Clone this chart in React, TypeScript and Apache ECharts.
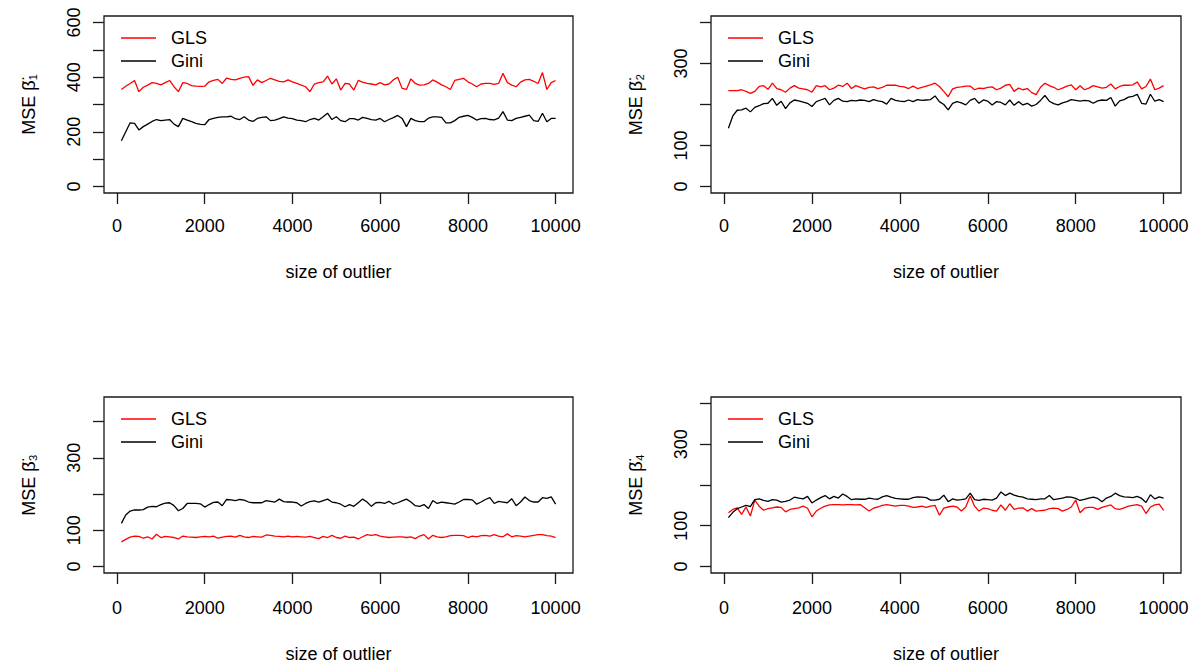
import React, { useEffect, useRef } from "react";
import * as echarts from "echarts";

const SIZES = [
  100, 200, 300, 400, 500, 600, 700, 800, 900, 1000,
  1100, 1200, 1300, 1400, 1500, 1600, 1700, 1800, 1900, 2000,
  2100, 2200, 2300, 2400, 2500, 2600, 2700, 2800, 2900, 3000,
  3100, 3200, 3300, 3400, 3500, 3600, 3700, 3800, 3900, 4000,
  4100, 4200, 4300, 4400, 4500, 4600, 4700, 4800, 4900, 5000,
  5100, 5200, 5300, 5400, 5500, 5600, 5700, 5800, 5900, 6000,
  6100, 6200, 6300, 6400, 6500, 6600, 6700, 6800, 6900, 7000,
  7100, 7200, 7300, 7400, 7500, 7600, 7700, 7800, 7900, 8000,
  8100, 8200, 8300, 8400, 8500, 8600, 8700, 8800, 8900, 9000,
  9100, 9200, 9300, 9400, 9500, 9600, 9700, 9800, 9900, 10000,
];

const X_TICKS = [0, 2000, 4000, 6000, 8000, 10000];

const GLS_B1 = [
  355, 367, 377, 388, 347, 363, 371, 380, 377, 372,
  380, 388, 365, 347, 380, 377, 369, 367, 366, 367,
  383, 388, 392, 377, 397, 392, 390, 396, 400, 402,
  370, 390, 380, 388, 396, 390, 385, 383, 390, 383,
  377, 371, 365, 347, 375, 380, 383, 404, 375, 394,
  353, 377, 375, 353, 388, 382, 377, 375, 372, 380,
  372, 375, 390, 400, 359, 355, 394, 377, 371, 372,
  377, 390, 382, 372, 365, 355, 388, 392, 396, 383,
  375, 365, 375, 377, 377, 374, 377, 414, 380, 371,
  365, 382, 390, 392, 385, 377, 417, 355, 380, 388,
];
const GINI_B1 = [
  167, 200, 233, 231, 207, 219, 228, 238, 245, 241,
  243, 245, 228, 219, 249, 243, 237, 231, 227, 226,
  245, 249, 253, 255, 255, 257, 248, 245, 255, 243,
  238, 249, 253, 255, 241, 243, 248, 255, 250, 248,
  243, 241, 237, 245, 249, 243, 255, 268, 245, 255,
  241, 237, 248, 248, 243, 253, 249, 245, 243, 249,
  237, 245, 252, 260, 249, 219, 249, 241, 237, 237,
  250, 255, 255, 253, 233, 233, 241, 253, 257, 260,
  253, 243, 248, 249, 245, 244, 250, 274, 243, 241,
  249, 253, 257, 261, 241, 238, 268, 237, 249, 249,
];

const GLS_B2 = [
  234, 234, 234, 236, 232, 227, 232, 244, 246, 237,
  252, 239, 236, 230, 240, 246, 240, 238, 236, 230,
  246, 243, 246, 236, 240, 247, 244, 252, 239, 246,
  242, 238, 242, 243, 239, 242, 247, 247, 247, 244,
  243, 239, 245, 239, 242, 245, 248, 252, 244, 232,
  219, 238, 242, 243, 245, 245, 236, 240, 239, 242,
  243, 236, 240, 247, 249, 232, 240, 236, 239, 229,
  224, 242, 252, 246, 242, 236, 240, 245, 248, 236,
  246, 236, 240, 246, 243, 240, 242, 250, 238, 244,
  247, 247, 248, 255, 238, 244, 262, 236, 240, 246,
];
const GINI_B2 = [
  142, 172, 186, 187, 191, 182, 193, 197, 202, 203,
  215, 198, 208, 190, 204, 211, 209, 206, 203, 195,
  207, 211, 215, 199, 210, 215, 208, 207, 210, 209,
  211, 210, 207, 212, 209, 207, 201, 215, 210, 208,
  207, 211, 207, 212, 210, 211, 212, 221, 207, 200,
  187, 203, 207, 204, 199, 210, 215, 203, 211, 208,
  199, 207, 205, 199, 211, 198, 207, 199, 203, 196,
  200, 210, 222, 208, 202, 199, 204, 207, 212, 210,
  208, 210, 209, 203, 209, 211, 210, 217, 196, 209,
  212, 218, 220, 225, 203, 201, 225, 208, 212, 207,
];

const GLS_B3 = [
  68, 75, 81, 84, 83, 78, 82, 76, 89, 80,
  83, 82, 80, 76, 84, 82, 81, 80, 82, 83,
  82, 84, 78, 81, 83, 84, 81, 86, 82, 80,
  83, 82, 81, 87, 86, 84, 83, 82, 84, 82,
  83, 82, 81, 83, 80, 77, 83, 80, 86, 80,
  78, 84, 80, 81, 76, 82, 88, 86, 88, 84,
  82, 80, 81, 82, 82, 80, 82, 77, 84, 88,
  76, 86, 82, 80, 82, 85, 86, 86, 85, 80,
  84, 82, 85, 86, 84, 88, 84, 82, 90, 82,
  85, 84, 82, 84, 86, 88, 88, 85, 84, 80,
];
const GINI_B3 = [
  119, 142, 153, 156, 156, 157, 164, 166, 165, 171,
  175, 176, 168, 154, 160, 174, 174, 174, 173, 164,
  171, 177, 178, 168, 185, 184, 182, 185, 183, 178,
  176, 176, 176, 182, 180, 178, 186, 179, 178, 178,
  176, 167, 174, 179, 181, 178, 182, 186, 178, 176,
  172, 165, 171, 166, 176, 186, 178, 166, 176, 177,
  174, 180, 172, 176, 181, 186, 178, 168, 166, 171,
  160, 182, 174, 178, 176, 174, 172, 178, 185, 185,
  184, 172, 178, 185, 190, 174, 180, 178, 176, 187,
  168, 178, 192, 182, 178, 178, 190, 188, 192, 172,
];

const GLS_B4 = [
  132, 140, 144, 128, 146, 124, 163, 148, 138, 142,
  144, 146, 145, 134, 140, 142, 144, 148, 143, 122,
  136, 143, 148, 151, 152, 152, 151, 152, 152, 151,
  152, 144, 136, 143, 146, 150, 152, 150, 148, 150,
  150, 148, 145, 146, 148, 145, 148, 150, 126, 143,
  146, 148, 146, 136, 146, 173, 148, 136, 143, 142,
  138, 136, 151, 138, 154, 140, 143, 144, 136, 142,
  136, 137, 138, 142, 143, 142, 136, 140, 146, 163,
  132, 143, 145, 145, 140, 145, 148, 151, 142, 140,
  144, 148, 150, 152, 148, 130, 146, 151, 153, 138,
];
const GINI_B4 = [
  120, 133, 142, 146, 150, 147, 164, 166, 162, 160,
  164, 163, 158, 160, 163, 170, 168, 166, 172, 156,
  163, 169, 174, 166, 172, 168, 178, 172, 164, 166,
  165, 165, 168, 166, 165, 171, 174, 170, 167, 166,
  165, 165, 169, 171, 170, 169, 163, 163, 165, 175,
  159, 166, 163, 164, 166, 180, 164, 162, 165, 164,
  163, 168, 183, 174, 180, 175, 172, 170, 166, 165,
  164, 166, 166, 174, 164, 166, 168, 171, 170, 167,
  162, 165, 168, 170, 167, 159, 168, 172, 180, 174,
  171, 170, 169, 172, 167, 157, 176, 166, 171, 168,
];

const Y_TITLES = ["MSE \u03B2\u0308\u2081", "MSE \u03B2\u0308\u2082", "MSE \u03B2\u0308\u2083", "MSE \u03B2\u0308\u2084"];
const Y_TICKS_1 = [0, 100, 200, 300, 400, 500, 600];
const Y_LABELS_1 = [0, 200, 400, 600];
const Y_TICKS_2 = [0, 100, 200, 300, 400];
const Y_LABELS_2 = [0, 100, 300];

const FONT = "'Liberation Sans', Arial, Helvetica, sans-serif";

export default function App() {
  const ref = useRef<HTMLDivElement>(null);

  useEffect(() => {
    if (!ref.current) return;
    const chart = echarts.init(ref.current, null, { renderer: "svg" });

    const panels = [
      { left: 104, top: 16, width: 469, height: 177, ymin: -24, ymax: 624, ticks: Y_TICKS_1, labels: Y_LABELS_1, gls: GLS_B1, gini: GINI_B1, xm: 24, ng: 70 },
      { left: 711, top: 16, width: 470, height: 177, ymin: -16, ymax: 416, ticks: Y_TICKS_2, labels: Y_LABELS_2, gls: GLS_B2, gini: GINI_B2, xm: 24, ng: 70 },
      { left: 104, top: 397, width: 469, height: 177, ymin: -18, ymax: 468, ticks: Y_TICKS_2, labels: Y_LABELS_2, gls: GLS_B3, gini: GINI_B3, xm: 26, ng: 72 },
      { left: 711, top: 397, width: 470, height: 177, ymin: -16, ymax: 416, ticks: Y_TICKS_2, labels: Y_LABELS_2, gls: GLS_B4, gini: GINI_B4, xm: 26, ng: 72 },
    ];

    const grid: any[] = [];
    const xAxis: any[] = [];
    const yAxis: any[] = [];
    const series: any[] = [];
    const graphic: any[] = [];

    panels.forEach((p, k) => {
      grid.push({
        left: p.left, top: p.top, width: p.width, height: p.height,
        show: true, borderColor: "#1a1a1a", borderWidth: 1.3, backgroundColor: "transparent",
        containLabel: false,
      });
      xAxis.push({
        type: "value", gridIndex: k, min: -296, max: 10396, position: "bottom",
        name: "size of outlier", nameLocation: "middle", nameGap: p.ng,
        nameTextStyle: { fontSize: 18, color: "#000", fontFamily: FONT },
        axisLine: { show: false, onZero: false },
        axisTick: { show: true, inside: false, length: 11, customValues: X_TICKS, lineStyle: { color: "#1a1a1a", width: 1.3 } },
        axisLabel: { show: true, customValues: X_TICKS, formatter: (v: number) => String(v), margin: p.xm, fontSize: 18, color: "#000", fontFamily: FONT, hideOverlap: false, showMinLabel: true, showMaxLabel: true },
        splitLine: { show: false },
      });
      yAxis.push({
        type: "value", gridIndex: k, min: p.ymin, max: p.ymax, position: "left",
        name: Y_TITLES[k], nameLocation: "middle", nameGap: 66,
        nameTextStyle: { fontSize: 18, color: "#000", fontFamily: FONT },
        axisLine: { show: false, onZero: false },
        axisTick: { show: true, inside: false, length: 11, customValues: p.ticks, lineStyle: { color: "#1a1a1a", width: 1.3 } },
        axisLabel: { show: true, customValues: p.labels, formatter: (v: number) => String(v), rotate: 90, margin: 21, fontSize: 18, color: "#000", fontFamily: FONT, hideOverlap: false },
        splitLine: { show: false },
      });
      series.push({
        type: "line", name: "GLS", xAxisIndex: k, yAxisIndex: k,
        data: SIZES.map((x, i) => [x, p.gls[i]]),
        showSymbol: false, symbol: "none",
        lineStyle: { color: "#ff0000", width: 1.3 }, itemStyle: { color: "#ff0000" },
      });
      series.push({
        type: "line", name: "Gini", xAxisIndex: k, yAxisIndex: k,
        data: SIZES.map((x, i) => [x, p.gini[i]]),
        showSymbol: false, symbol: "none",
        lineStyle: { color: "#000000", width: 1.3 }, itemStyle: { color: "#000000" },
      });
      const lx = p.left + 17;
      const ly1 = p.top + 22;
      const ly2 = p.top + 45;
      graphic.push(
        { type: "line", shape: { x1: lx, y1: ly1, x2: lx + 35, y2: ly1 }, style: { stroke: "#ff0000", lineWidth: 1.3 } },
        { type: "line", shape: { x1: lx, y1: ly2, x2: lx + 35, y2: ly2 }, style: { stroke: "#000000", lineWidth: 1.3 } },
        { type: "text", x: p.left + 67, y: ly1, style: { text: "GLS", fontSize: 18, fontFamily: FONT, fill: "#000", textVerticalAlign: "middle", verticalAlign: "middle" } },
        { type: "text", x: p.left + 67, y: ly2, style: { text: "Gini", fontSize: 18, fontFamily: FONT, fill: "#000", textVerticalAlign: "middle", verticalAlign: "middle" } },
      );
    });

    chart.setOption({
      animation: false,
      backgroundColor: "#ffffff",
      textStyle: { fontFamily: FONT },
      grid, xAxis, yAxis, series, graphic,
    });

    return () => chart.dispose();
  }, []);

  return <div ref={ref} style={{ position: "absolute", left: 0, top: 0, width: 1194, height: 664 }} />;
}
